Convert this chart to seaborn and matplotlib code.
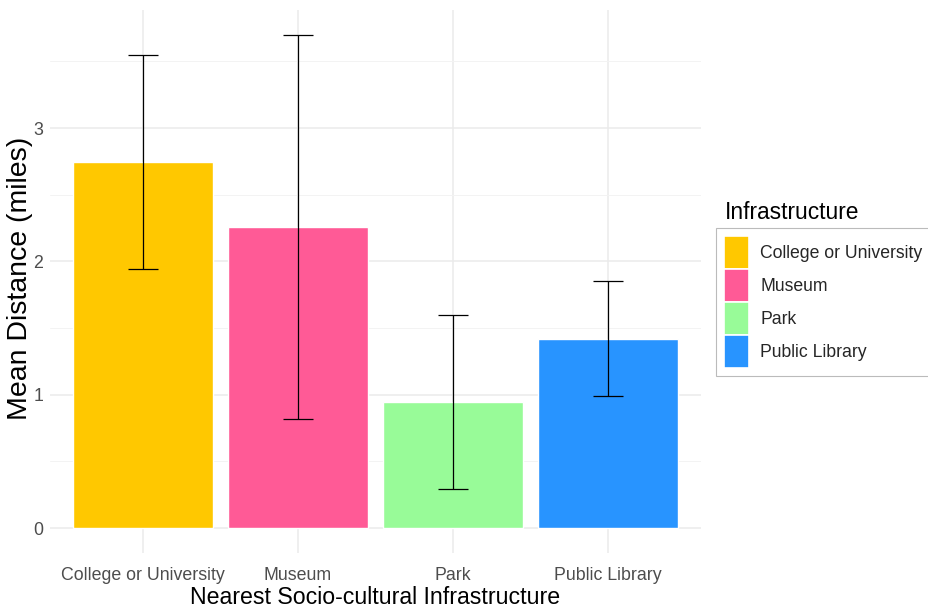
import matplotlib
matplotlib.use("Agg")
import matplotlib.pyplot as plt
import seaborn as sns
import pandas as pd
from matplotlib.patches import Patch
from matplotlib.ticker import MultipleLocator

categories = ["College or University", "Museum", "Park", "Public Library"]
mean_distance = [2.745, 2.26, 0.945, 1.42]
error_half = [0.80, 1.44, 0.65, 0.43]
colors = ["#FFC800", "#FF5A96", "#98FB98", "#2894FF"]

df = pd.DataFrame({"Infrastructure": categories, "mean": mean_distance, "err": error_half})

sns.set_theme(style="white")
plt.rcParams["font.family"] = ["Liberation Sans", "DejaVu Sans"]

fig = plt.figure(figsize=(9.29, 6.16), dpi=100)
ax = fig.add_axes([0.0538, 0.1027, 0.7008, 0.881])

palette = dict(zip(categories, colors))
sns.barplot(data=df, x="Infrastructure", y="mean", hue="Infrastructure",
            palette=palette, width=0.9, saturation=1, errorbar=None,
            legend=False, ax=ax, zorder=2)

ax.errorbar(x=range(len(categories)), y=df["mean"], yerr=df["err"], fmt="none",
            ecolor="black", elinewidth=0.9, capsize=11, capthick=0.9, zorder=3)

ymax = max(m + e for m, e in zip(mean_distance, error_half))
ax.set_xlim(-0.6, len(categories) - 0.4)
ax.set_ylim(-0.05 * ymax, ymax * 1.05)
ax.yaxis.set_major_locator(MultipleLocator(1))
ax.yaxis.set_minor_locator(MultipleLocator(0.5))

ax.grid(True, which="major", color="#EBEBEB", linewidth=1.1, zorder=0)
ax.grid(True, which="minor", axis="y", color="#F3F3F3", linewidth=0.7, zorder=0)
ax.set_axisbelow(True)
for s in ax.spines.values():
    s.set_visible(False)

ax.tick_params(axis="both", which="both", length=0, labelsize=12.8, colors="#4D4D4D")
ax.tick_params(axis="x", pad=10.5)
ax.tick_params(axis="y", pad=5)

ax.set_xlabel("Nearest Socio-cultural Infrastructure", fontsize=16.7, color="black")
ax.xaxis.set_label_coords(0.5, -0.061)
ax.set_ylabel("Mean Distance (miles)", fontsize=20.5, color="black")
ax.yaxis.set_label_coords(-0.026, 0.505)

# legend title sits above the framed key box
fig.text(725 / 929, 1 - 219 / 616, "Infrastructure", fontsize=16.4, color="black",
         ha="left", va="baseline")
handles = [Patch(facecolor=c, edgecolor="white", linewidth=1.2) for c in colors]
leg = fig.legend(handles, categories, loc="upper left",
                 bbox_to_anchor=(716 / 929, 1 - 228 / 616), frameon=True,
                 fontsize=12.7, handlelength=1.4, handleheight=2.51,
                 labelspacing=0.0, handletextpad=0.67, borderpad=0.45,
                 fancybox=False, borderaxespad=0)
leg.get_frame().set_edgecolor("#AAAAAA")
leg.get_frame().set_linewidth(0.8)

fig.savefig("out.png", dpi=100)
